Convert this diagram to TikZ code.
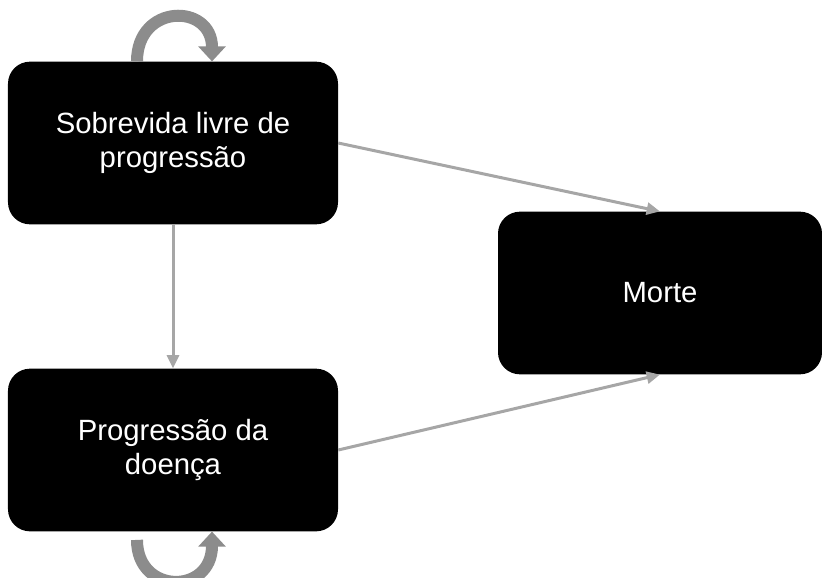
\documentclass[tikz,border=0pt]{standalone}
\usepackage{fontspec}
\setmainfont{Liberation Sans}
\usetikzlibrary{positioning, arrows.meta}
\definecolor{linegray}{HTML}{A6A6A6}
\definecolor{loopgray}{HTML}{8C8C8C}
\tikzset{
x=0.03cm, y=-0.03cm, % one unit is one pixel of the reference
stateblock/.style={fill=black, text=white, rounded corners=0.66cm, minimum width=9.9cm, minimum height=4.88cm, align=center, font=\fontsize{25}{28.5}\selectfont},
trans/.style={draw=linegray, line width=0.09cm, -{Triangle[length=0.4cm, width=0.36cm]}},
selfloop/.style={draw=loopgray, line width=0.36cm, -{Triangle[length=0.45cm, width=0.8cm]}},
}

\begin{document}
\begin{tikzpicture}
\clip (0,0) rectangle (822,577);
\useasboundingbox (0,0) rectangle (822,577);
\node[stateblock] (sfp) at (173,143) {Sobrevida livre de\\progressão};
\node[stateblock] (pd) at (173,450) {Progressão da\\doença};
\node[stateblock, minimum width=9.72cm] (morte) at (660,293) {Morte};
\draw[trans] (sfp.east) -- (morte.north);
\draw[trans] (pd.east) -- (morte.south);
\draw[trans] (sfp.south) -- (pd.north);
% self loops
\draw[selfloop] ([xshift=-1.08cm]sfp.north) .. controls ([xshift=-1.08cm, yshift=1.75cm]sfp.north) and ([xshift=1.17cm, yshift=1.75cm]sfp.north) .. ([xshift=1.17cm]sfp.north);
\draw[selfloop] ([xshift=-1.08cm, yshift=-0.25cm]pd.south) .. controls ([xshift=-1.08cm, yshift=-1.9cm]pd.south) and ([xshift=1.17cm, yshift=-1.9cm]pd.south) .. ([xshift=1.17cm]pd.south);
\end{tikzpicture}
\end{document}
